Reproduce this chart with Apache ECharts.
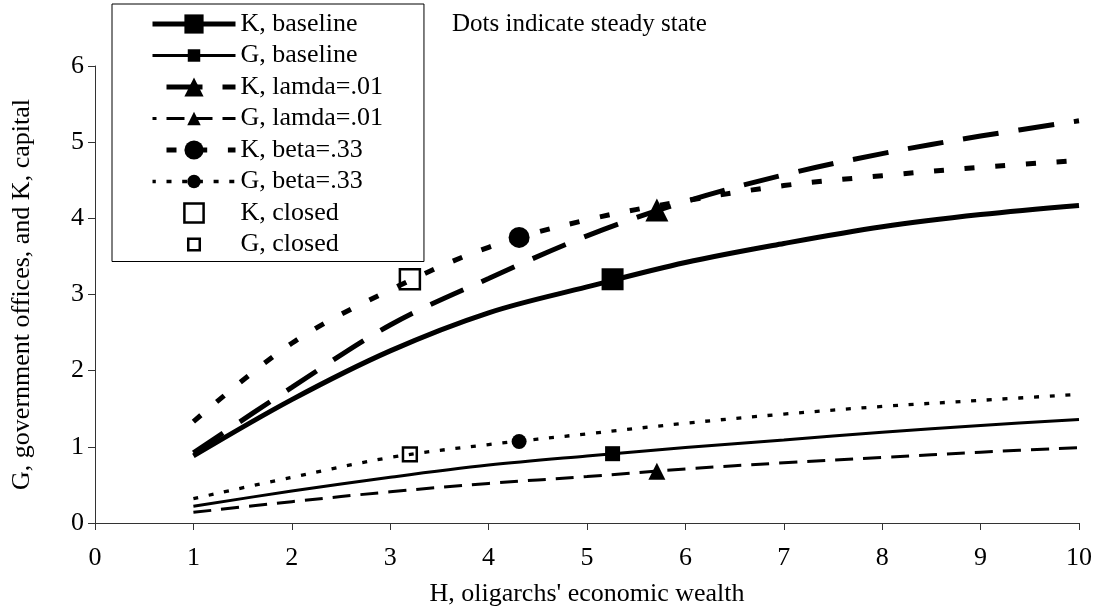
<!DOCTYPE html>
<html>
<head>
<meta charset="utf-8">
<script src="https://cdn.jsdelivr.net/npm/echarts@6/dist/echarts.min.js"></script>
<style>
  html, body { margin: 0; padding: 0; background: #fff; }
  #chart { width: 1097px; height: 613px; }
</style>
</head>
<body>
<div id="chart"></div>
<script>
// H grid and curve values
const H = [1, 2, 3, 4, 5, 6, 7, 8, 9, 10];
const kBaseline = [0.88, 1.62, 2.26, 2.76, 3.10, 3.42, 3.67, 3.89, 4.05, 4.17];
const gBaseline = [0.22, 0.42, 0.60, 0.76, 0.88, 0.99, 1.09, 1.19, 1.28, 1.36];
const kLamda = [0.92, 1.78, 2.60, 3.21, 3.77, 4.22, 4.57, 4.85, 5.08, 5.28];
const gLamda = [0.14, 0.28, 0.41, 0.52, 0.61, 0.71, 0.79, 0.86, 0.93, 0.99];
const kBeta = [1.33, 2.36, 3.06, 3.62, 3.98, 4.23, 4.43, 4.56, 4.67, 4.76];
const gBeta = [0.32, 0.60, 0.86, 1.03, 1.17, 1.31, 1.43, 1.53, 1.61, 1.69];

// steady states [H, value]
const kBaselineSS = [5.26, 3.20];
const gBaselineSS = [5.26, 0.91];
const kLamdaSS = [5.71, 4.11];
const gLamdaSS = [5.71, 0.68];
const kBetaSS = [4.31, 3.75];
const gBetaSS = [4.31, 1.07];
const kClosed = [3.2, 3.2];
const gClosed = [3.2, 0.9];

const xTicks = [0, 10, 1];
const yTicks = [0, 6, 1];

const FONT = '"Liberation Serif", "Times New Roman", serif';

// smaller legend glyphs for the G series (extra moveTo points pad the box)
const SMALL_SQUARE = 'path://M0 0M20 20M3.5 3.5h13v13h-13z';
const SMALL_TRI = 'path://M0 0M20 20M10 3L17 17H3z';
const SMALL_CIRCLE = 'path://M0 0M20 20M3 10a7 7 0 1 0 14 0a7 7 0 1 0 -14 0z';
const SMALL_BOX = 'path://M0 0M20 20M4 4h12v12h-12z';

function pairs(ys) {
  return H.map((h, i) => [h, ys[i]]);
}

function curve(name, ys, width, dash, legendSymbol, ss, ssSymbol, ssSize) {
  return {
    name: name,
    type: 'line',
    data: pairs(ys),
    smooth: 0.35,
    showSymbol: false,
    symbol: legendSymbol,
    itemStyle: { color: '#000' },
    lineStyle: { color: '#000', width: width, type: dash },
    markPoint: {
      symbol: ssSymbol,
      symbolSize: ssSize,
      silent: true,
      label: { show: false },
      itemStyle: { color: '#000' },
      data: [{ coord: ss }]
    },
    z: 3
  };
}

function closedPoint(name, pt, symbol, size) {
  return {
    name: name,
    type: 'line',
    data: [pt],
    symbol: symbol,
    symbolSize: size,
    lineStyle: { width: 0 },
    itemStyle: { color: 'rgba(0,0,0,0)', borderColor: '#000', borderWidth: 2.5 },
    z: 4
  };
}

const chart = echarts.init(document.getElementById('chart'));

const option = {
  animation: false,
  backgroundColor: '#fff',
  textStyle: { fontFamily: FONT, color: '#000' },
  title: {
    text: 'Dots indicate steady state',
    left: 452,
    top: 12,
    padding: 0,
    textStyle: { fontFamily: FONT, fontSize: 25, fontWeight: 'normal', color: '#000' }
  },
  grid: { left: 95, right: 18, top: 66, bottom: 90, outerBoundsMode: 'none' },
  legend: {
    orient: 'vertical',
    left: 112,
    top: 4,
    padding: [7, 41, 4, 38],
    itemWidth: 83,
    itemHeight: 24,
    itemGap: 5.5,
    borderColor: '#000',
    borderWidth: 1,
    borderRadius: 0,
    backgroundColor: '#fff',
    selectedMode: false,
    lineStyle: { width: 'inherit', type: 'inherit' },
    textStyle: { fontFamily: FONT, fontSize: 26, color: '#000' },
    data: [
      'K, baseline', 'G, baseline',
      { name: 'K, lamda=.01', lineStyle: { dashOffset: -14 } },
      'G, lamda=.01',
      'K, beta=.33', 'G, beta=.33',
      { name: 'K, closed', itemStyle: { color: 'rgba(0,0,0,0)', borderColor: '#000', borderWidth: 2.5 } },
      { name: 'G, closed', itemStyle: { color: 'rgba(0,0,0,0)', borderColor: '#000', borderWidth: 2.5 } }
    ]
  },
  xAxis: {
    type: 'value',
    min: xTicks[0],
    max: xTicks[1],
    interval: xTicks[2],
    name: "H, oligarchs' economic wealth",
    nameLocation: 'middle',
    nameGap: 58,
    nameTextStyle: { fontFamily: FONT, fontSize: 26, color: '#000' },
    axisLine: { show: true, onZero: false, lineStyle: { color: '#333', width: 1 } },
    axisTick: { show: true, inside: false, length: 7, lineStyle: { color: '#333' } },
    axisLabel: { fontFamily: FONT, fontSize: 26, color: '#000', margin: 22 },
    splitLine: { show: false }
  },
  yAxis: {
    type: 'value',
    min: yTicks[0],
    max: yTicks[1],
    interval: yTicks[2],
    name: 'G, government offices, and K, capital',
    nameLocation: 'middle',
    nameGap: 60,
    nameTextStyle: { fontFamily: FONT, fontSize: 26, color: '#000' },
    axisLine: { show: true, lineStyle: { color: '#333', width: 1 } },
    axisTick: { show: true, inside: false, length: 7, lineStyle: { color: '#333' } },
    axisLabel: { fontFamily: FONT, fontSize: 26, color: '#000', margin: 11 },
    splitLine: { show: false }
  },
  series: [
    curve('K, baseline', kBaseline, 5, 'solid', 'rect', kBaselineSS, 'rect', 22),
    curve('G, baseline', gBaseline, 3, 'solid', SMALL_SQUARE, gBaselineSS, 'rect', 15),
    curve('K, lamda=.01', kLamda, 5, [36, 20], 'triangle', kLamdaSS, 'triangle', 23),
    curve('G, lamda=.01', gLamda, 3, [18, 10], SMALL_TRI, gLamdaSS, 'triangle', 17),
    curve('K, beta=.33', kBeta, 5, [10, 20.7], 'circle', kBetaSS, 'circle', 21),
    curve('G, beta=.33', gBeta, 3.3, [5, 10.7], SMALL_CIRCLE, gBetaSS, 'circle', 15),
    closedPoint('K, closed', kClosed, 'rect', 20),
    closedPoint('G, closed', gClosed, SMALL_BOX, 23)
  ]
};

chart.setOption(option);
</script>
</body>
</html>
